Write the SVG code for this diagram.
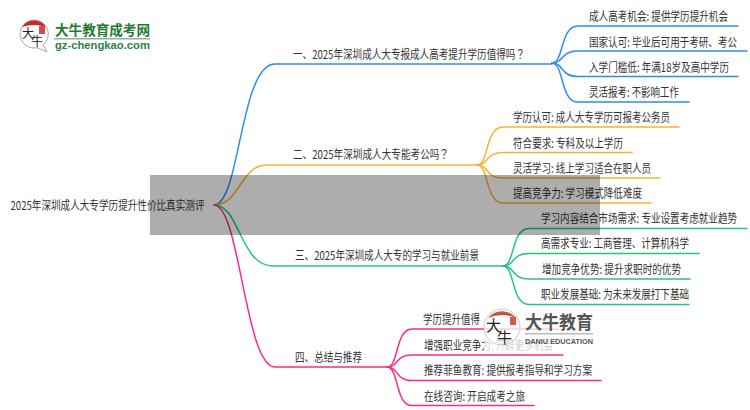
<svg xmlns="http://www.w3.org/2000/svg" width="750" height="410" viewBox="0 0 750 410">
<style>
text{font-family:"Noto Sans CJK SC","Liberation Sans",sans-serif;font-size:12px;fill:#333}
.tc{font-family:"Noto Sans CJK TC","Noto Sans CJK SC",sans-serif}
.c{fill:none;stroke-width:1.5;stroke-linecap:round}
.b{stroke:#2f8cf5}.o{stroke:#f7b230}.g{stroke:#21c77c}.p{stroke:#fa2d8a}
</style>
<rect width="750" height="410" fill="#fff"/>
<g id="connectors">
<g class="c b"><path d="M214 205C240 205 240 64 275 64H552"/><path d="M552 63C564 63 560 26 578 26H738"/><path d="M552 63C564 63 560 51 578 51H747"/><path d="M552 63C564 63 560 76.500 578 76.500H738"/><path d="M552 63C564 63 560 102 578 102H689"/></g>
<g class="c o"><path d="M214 205C240 205 240 165 267 165H477"/><path d="M477 165C489 165 485 127 503 127H679"/><path d="M477 165C489 165 485 152.500 503 152.500H632"/><path d="M477 165C489 165 485 178 503 178H660"/><path d="M477 165C489 165 485 203 503 203H651"/></g>
<g class="c g"><path d="M214 205C240 205 240 266 273 266H503"/><path d="M503 266C515 266 511 228.500 529 228.500H747"/><path d="M503 266C515 266 511 253.500 529 253.500H699"/><path d="M503 266C515 266 511 279 529 279H690"/><path d="M503 266C515 266 511 304.500 529 304.500H689"/></g>
<g class="c p"><path d="M214 205C240 205 245 367 275 367H387"/><path d="M387 367C399 367 395 329 412 329H558"/><path d="M387 367C399 367 395 355 412 355H563"/><path d="M387 367C399 367 395 380.500 412 380.500H601"/><path d="M387 367C399 367 395 405.500 412 405.500H534"/></g>
</g>
<g id="root"><text x="10.500" y="210" textLength="194" lengthAdjust="spacingAndGlyphs">2025年深圳成人大专学历提升性价比真实测评</text></g>
<g id="n1"><text x="293" y="59" textLength="232" lengthAdjust="spacingAndGlyphs">一、2025年深圳成人大专报成人高考提升学历值得吗<tspan class="tc">？</tspan></text></g>
<g id="n1a"><text x="589" y="21" textLength="139" lengthAdjust="spacingAndGlyphs">成人高考机会: 提供学历提升机会</text></g>
<g id="n1b"><text x="589" y="46.500" textLength="148" lengthAdjust="spacingAndGlyphs">国家认可: 毕业后可用于考研、考公</text></g>
<g id="n1c"><text x="589" y="71.500" textLength="140" lengthAdjust="spacingAndGlyphs">入学门槛低: 年满18岁及高中学历</text></g>
<g id="n1d"><text x="589" y="96.500" textLength="90" lengthAdjust="spacingAndGlyphs">灵活报考: 不影响工作</text></g>
<g id="n2"><text x="293" y="159" textLength="156" lengthAdjust="spacingAndGlyphs">二、2025年深圳成人大专能考公吗<tspan class="tc">？</tspan></text></g>
<g id="n2a"><text x="513" y="122" textLength="157" lengthAdjust="spacingAndGlyphs">学历认可: 成人大专学历可报考公务员</text></g>
<g id="n2b"><text x="513" y="147.500" textLength="110" lengthAdjust="spacingAndGlyphs">符合要求: 专科及以上学历</text></g>
<g id="n2c"><text x="513" y="172.500" textLength="138" lengthAdjust="spacingAndGlyphs">灵活学习: 线上学习适合在职人员</text></g>
<g id="n2d"><text x="513" y="197.500" textLength="129" lengthAdjust="spacingAndGlyphs">提高竞争力: 学习模式降低难度</text></g>
<g id="n3"><text x="295" y="260" textLength="184" lengthAdjust="spacingAndGlyphs">三、2025年深圳成人大专的学习与就业前景</text></g>
<g id="n3a"><text x="541" y="223" textLength="196" lengthAdjust="spacingAndGlyphs">学习内容结合市场需求: 专业设置考虑就业趋势</text></g>
<g id="n3b"><text x="541" y="248" textLength="148" lengthAdjust="spacingAndGlyphs">高需求专业: 工商管理、计算机科学</text></g>
<g id="n3c"><text x="542" y="274" textLength="139" lengthAdjust="spacingAndGlyphs">增加竞争优势: 提升求职时的优势</text></g>
<g id="n3d"><text x="541" y="299" textLength="148" lengthAdjust="spacingAndGlyphs">职业发展基础: 为未来发展打下基础</text></g>
<g id="n4"><text x="295" y="362" textLength="67" lengthAdjust="spacingAndGlyphs">四、总结与推荐</text></g>
<g id="n4a"><text x="423" y="324" textLength="57" lengthAdjust="spacingAndGlyphs">学历提升值得</text></g>
<g id="n4b"><text x="424" y="350" textLength="129" lengthAdjust="spacingAndGlyphs">增强职业竞争力: 开辟更多机会</text></g>
<g id="n4c"><text x="424" y="375" textLength="168" lengthAdjust="spacingAndGlyphs">推荐菲鱼教育: 提供报考指导和学习方案</text></g>
<g id="n4d"><text x="424" y="401" textLength="101" lengthAdjust="spacingAndGlyphs">在线咨询: 开启成考之旅</text></g>
<rect id="band" x="150" y="175" width="450" height="60" fill="#000" fill-opacity=".32"/>
<g id="logo">
<path d="M34 20a14 14 0 1 0 3 27.700l10 4.300-4-7A14 14 0 0 0 34 20z" fill="#fff" stroke="#aaa"/>
<path d="M22 27a14 14 0 0 1 24 0q-12-4-24 0z" fill="#c9282d"/>
<rect x="39" y="26" width="6" height="8" fill="#d9484d"/>
<text x="22" y="38" style="font-size:12px;fill:#222">大</text>
<text x="31" y="46" style="font-size:12px;fill:#222">牛</text>
<text x="55" y="35" textLength="95" lengthAdjust="spacingAndGlyphs" style="font-size:13.500px;font-weight:700;fill:#1f7a35">大牛教育成考网</text>
<rect x="54" y="38" width="96" height="1.500" fill="#9aa"/>
<text x="55" y="49" textLength="95" lengthAdjust="spacingAndGlyphs" style="font-size:10px;font-weight:700;fill:#2d7f45;font-family:'Liberation Sans',sans-serif">gz-chengkao.com</text>
</g>
<g id="watermark">
<rect x="484" y="306" width="112" height="47" fill="#fff" fill-opacity=".76"/>
<circle cx="502" cy="327" r="18" fill="none" stroke="#ccc"/>
<path d="M488 318a18 18 0 0 1 28 0q-14-6-28 0z" fill="#c9382d" fill-opacity=".9"/>
<rect x="510" y="317" width="6" height="8" fill="#d9584d"/>
<text x="486" y="331" style="font-size:15px;fill:#222">大</text>
<text x="497" y="343" style="font-size:15px;fill:#222">牛</text>
<text x="525" y="329" textLength="68" lengthAdjust="spacingAndGlyphs" style="font-size:18px;font-weight:700;fill:#555">大牛教育</text>
<rect x="525" y="333" width="68" height="1.500" fill="#bbb"/>
<text x="525" y="344" textLength="68" lengthAdjust="spacingAndGlyphs" style="font-size:7px;font-weight:700;fill:#555;font-family:'Liberation Sans',sans-serif">DANIU EDUCATION</text>
</g>
</svg>
